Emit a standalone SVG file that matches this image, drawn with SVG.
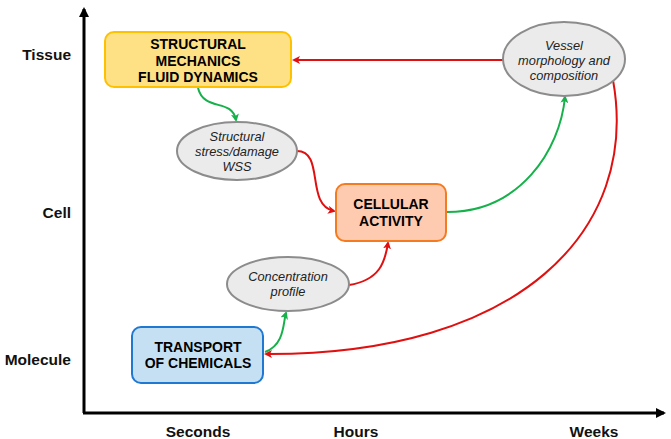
<svg xmlns="http://www.w3.org/2000/svg" width="671" height="439" viewBox="0 0 671 439">
<style>
.ax{stroke:#000;stroke-width:3;fill:none}
.lab{font-family:"Liberation Sans",Arial,sans-serif;font-weight:bold;font-size:15.5px;fill:#111}
.bt{font-family:"Liberation Sans",Arial,sans-serif;font-weight:bold;font-size:14px;fill:#000;text-anchor:middle}
.et{font-family:"Liberation Sans",Arial,sans-serif;font-style:italic;font-size:12.8px;fill:#222;text-anchor:middle}
.ell{fill:#EBEBEB;stroke:#8C8C8C;stroke-width:2}
.red{stroke:#E01010;stroke-width:2;fill:none;marker-end:url(#ar)}
.grn{stroke:#16B14A;stroke-width:2;fill:none;marker-end:url(#ag)}
</style>
<defs>
<marker id="ar" markerWidth="8" markerHeight="8" refX="6" refY="4" orient="auto" markerUnits="userSpaceOnUse" viewBox="0 0 8 8"><path d="M0,0 L8,4 L0,8 L2,4 Z" fill="#E01010"/></marker>
<marker id="ag" markerWidth="8" markerHeight="8" refX="6" refY="4" orient="auto" markerUnits="userSpaceOnUse" viewBox="0 0 8 8"><path d="M0,0 L8,4 L0,8 L2,4 Z" fill="#16B14A"/></marker>
<marker id="ak" markerWidth="10" markerHeight="10" refX="8" refY="5" orient="auto" markerUnits="userSpaceOnUse" viewBox="0 0 10 10"><path d="M0,0 L10,5 L0,10 Z" fill="#000"/></marker>
</defs>
<g id="axes">
<path class="ax" d="M84,413 L84,9" marker-end="url(#ak)"/>
<path class="ax" d="M83,413 L664,413" marker-end="url(#ak)"/>
<text class="lab" x="71" y="60" text-anchor="end">Tissue</text>
<text class="lab" x="71" y="218" text-anchor="end">Cell</text>
<text class="lab" x="71" y="365" text-anchor="end">Molecule</text>
<text class="lab" x="198" y="437" text-anchor="middle">Seconds</text>
<text class="lab" x="356" y="437" text-anchor="middle">Hours</text>
<text class="lab" x="594" y="437" text-anchor="middle">Weeks</text>
</g>
<g id="connectors">
<path class="red" d="M503,60 L294,60"/>
<path class="grn" d="M198,88 C204,112 232,98 236,120"/>
<path class="red" d="M297,151 C325,151 305,205 334,211"/>
<path class="red" d="M349,285 C380,280 385,262 388,243"/>
<path class="grn" d="M265,352 C285,345 283,322 286,313"/>
<path class="grn" d="M447,212 C520,212 560,150 565,97"/>
<path class="red" d="M613,80 C640,230 520,355 266,354"/>
</g>
<g id="structural">
<rect x="105" y="32" width="186" height="55" rx="9" fill="#FFE185" stroke="#FFC000" stroke-width="2"/>
<text class="bt" x="198" y="49">STRUCTURAL</text>
<text class="bt" x="198" y="66">MECHANICS</text>
<text class="bt" x="198" y="82">FLUID DYNAMICS</text>
</g>
<g id="stress">
<ellipse class="ell" cx="237" cy="151" rx="60" ry="29"/>
<text class="et" x="237" y="141">Structural</text>
<text class="et" x="237" y="156">stress/damage</text>
<text class="et" x="237" y="171">WSS</text>
</g>
<g id="cellular">
<rect x="336" y="184" width="110" height="57" rx="9" fill="#FFCBB0" stroke="#F47B20" stroke-width="2"/>
<text class="bt" x="391" y="209">CELLULAR</text>
<text class="bt" x="391" y="226">ACTIVITY</text>
</g>
<g id="concentration">
<ellipse class="ell" cx="288" cy="284" rx="61" ry="27"/>
<text class="et" x="288" y="281">Concentration</text>
<text class="et" x="288" y="296">profile</text>
</g>
<g id="transport">
<rect x="132" y="327" width="131" height="56" rx="9" fill="#C6E0F3" stroke="#1F78D1" stroke-width="2"/>
<text class="bt" x="198" y="352">TRANSPORT</text>
<text class="bt" x="198" y="368">OF CHEMICALS</text>
</g>
<g id="vessel">
<ellipse class="ell" cx="564" cy="59" rx="61" ry="37"/>
<text class="et" x="564" y="50">Vessel</text>
<text class="et" x="564" y="65">morphology and</text>
<text class="et" x="564" y="80">composition</text>
</g>
</svg>
